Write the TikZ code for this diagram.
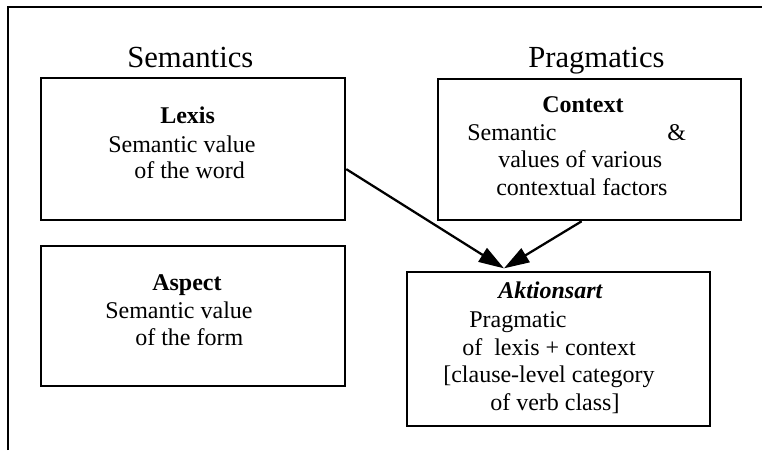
\documentclass[tikz,border=0pt]{standalone}
\usepackage{fontspec}
\setmainfont{Liberation Serif}
\usetikzlibrary{arrows.meta}
\tikzset{
  frameline/.style={line width=1.8pt},
  boxnode/.style={draw, line width=1.7pt, rectangle, inner sep=0pt, anchor=north west},
  txt/.style={anchor=base west, inner sep=0pt, font=\fontsize{18}{21}\selectfont},
  head/.style={anchor=base west, inner sep=0pt, font=\fontsize{23}{27}\selectfont},
  arrowline/.style={line width=1.7pt, -{Triangle[length=19pt,width=12pt]}}
}
\begin{document}
\begin{tikzpicture}[x=0.75pt,y=-0.75pt]
\useasboundingbox (0,0) rectangle (762,450);
% outer frame
\coordinate (fbl) at (8,450);
\coordinate (ftl) at (8,7);
\coordinate (ftr) at (762,7);
\draw[frameline] (fbl) -- (ftl) -- (ftr);
% headers
\node[head] (hsem) at (127,67) {Semantics};
\node[head] (hprag) at (528,67) {Pragmatics};
% boxes
\node[boxnode, minimum width=228pt, minimum height=106.5pt] (lexis) at (40,77) {};
\node[boxnode, minimum width=227.25pt, minimum height=105.75pt] (context) at (437,78) {};
\node[boxnode, minimum width=228pt, minimum height=105pt] (aspect) at (40,245) {};
\node[boxnode, minimum width=227.25pt, minimum height=115.5pt] (akt) at (406,271) {};
% Lexis text
\node[txt] (lx1) at (160,123) {\textbf{Lexis}};
\node[txt] (lx2) at (108,152) {Semantic value};
\node[txt] (lx3) at (134,178) {of the word};
% Context text
\node[txt] (cx1) at (542,112) {\textbf{Context}};
\node[txt] (cx2) at (467,140) {Semantic\hspace{83pt}\&};
\node[txt] (cx3) at (498,167) {values of various};
\node[txt] (cx4) at (496,195) {contextual factors};
% Aspect text
\node[txt] (as1) at (152,290) {\textbf{Aspect}};
\node[txt] (as2) at (105,318) {Semantic value};
\node[txt] (as3) at (135,345) {of the form};
% Aktionsart text
\node[txt] (ak1) at (498,298) {\textbf{\textit{Aktionsart}}};
\node[txt] (ak2) at (469,327) {Pragmatic};
\node[txt] (ak3) at (462,355) {of\ \ lexis + context};
\node[txt] (ak4) at (443,382) {[clause-level category};
\node[txt] (ak5) at (490,410) {of verb class]};
% arrows
\draw[arrowline] ([yshift=-15pt]lexis.east) -- ([xshift=-41pt,yshift=2pt]akt.north);
\draw[arrowline] ([xshift=-6pt]context.south) -- ([xshift=-41pt,yshift=2pt]akt.north);
\end{tikzpicture}
\end{document}
